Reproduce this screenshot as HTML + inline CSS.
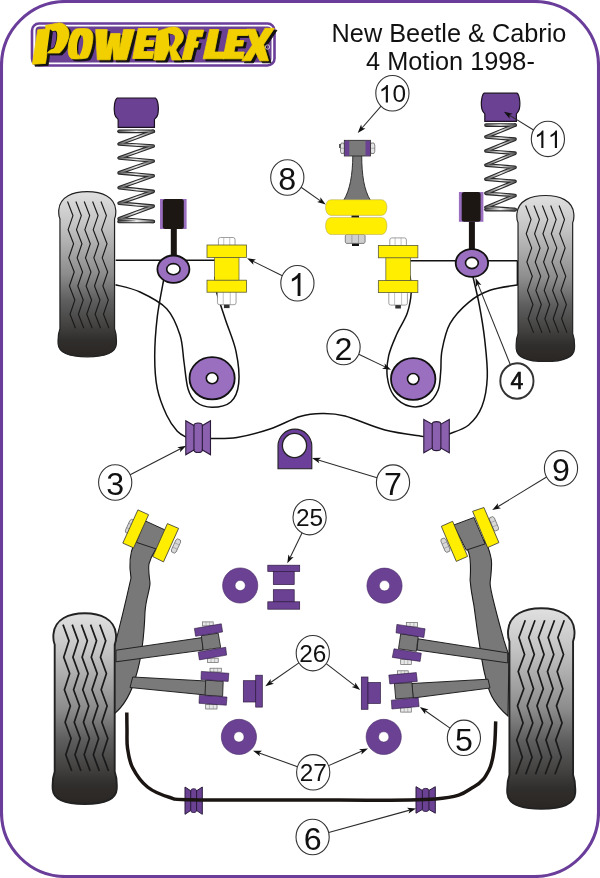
<!DOCTYPE html><html><head><meta charset="utf-8"><style>
html,body{margin:0;padding:0;background:#fff;width:600px;height:878px;overflow:hidden}
svg{display:block;font-family:"Liberation Sans",sans-serif;will-change:transform}
</style></head><body>
<svg width="600" height="878" viewBox="0 0 600 878">
<defs>
<linearGradient id="tg" x1="0" y1="0" x2="0" y2="1">
<stop offset="0" stop-color="#e0e0e0"/><stop offset="0.2" stop-color="#c4c4c4"/>
<stop offset="0.5" stop-color="#8c8c8c"/><stop offset="0.66" stop-color="#5e5e5e"/><stop offset="0.8" stop-color="#454443"/>
<stop offset="0.9" stop-color="#302e2c"/><stop offset="1" stop-color="#2a2624"/>
</linearGradient>
<linearGradient id="sg1" gradientUnits="userSpaceOnUse" x1="119" y1="0" x2="154" y2="0">
<stop offset="0" stop-color="#555"/><stop offset="0.5" stop-color="#f0f0f0"/><stop offset="1" stop-color="#555"/>
</linearGradient>
<linearGradient id="sg2" gradientUnits="userSpaceOnUse" x1="486" y1="0" x2="515" y2="0">
<stop offset="0" stop-color="#555"/><stop offset="0.5" stop-color="#f0f0f0"/><stop offset="1" stop-color="#555"/>
</linearGradient>
</defs>

<rect x="1.5" y="1.5" width="597" height="875" rx="64" ry="64" fill="#fff" stroke="#6a3d9a" stroke-width="3.1"/>
<rect x="32" y="23.5" width="242.5" height="42" rx="7" fill="#fff" stroke="#6a3d9a" stroke-width="2.6"/>
<rect x="35.5" y="26.5" width="236" height="36" rx="4" fill="#6a4193"/>
<g fill="#111" stroke="#111" stroke-width="0.8" stroke-linejoin="round"><path d="M 37.8,29.8 L 50.5,28.6 L 45.5,63.4 L 32.4,64.2 Z" transform="translate(2.6,2.0) "/><path d="M 45.6,25.5 L 58.8,22.9 C 63,22.5 69.5,27 69,34.7 C 68.5,41 64,49 59.5,53 L 47.8,53 Z" transform="translate(2.6,2.0) "/><path d="M 75.8,29.1 C 79,28.5 83,28.5 86.7,28.7 C 91,29 93.5,33 92.9,38.7 C 92,47 90,54 87.5,57.8 C 83,59 76,59.2 71.7,58.7 C 68.5,57 67.8,52 68.3,47 C 69,39 71.5,31 75.8,29.1 Z" transform="translate(2.6,2.0) "/><path d="M 95.7,29.6 L 107.2,29.6 L 106.3,50 L 110.8,33.6 L 120.2,33.6 L 119.5,50 L 123.6,29.6 L 134.6,29.6 L 126.5,59.8 L 113.8,59.8 L 112.6,45 L 110.2,59.8 L 97.3,59.8 Z" transform="translate(2.6,2.0) "/><path d="M 137,28.5 L 156.8,28.5 L 156,35 L 145.6,35 L 145,40.5 L 153.8,40.5 L 153.2,46.5 L 144.3,46.5 L 143.7,51.5 L 154.3,51.5 L 153.5,58.5 L 133.8,58.5 Z" transform="translate(2.6,2.0) matrix(1,0,-0.08,1,3.52,0)"/><path d="M 157.3,31.3 L 164,29.3 C 167,28 170,27 173.3,27 C 178,27 182,29.5 183.3,35 C 184,40 181,44 178.7,45.3 L 175.8,50 L 181.5,60 L 172,60 L 169.3,49 L 164.7,60 L 153.7,60 Z" transform="translate(2.6,2.0) "/><path d="M 184.5,30 L 199,30 L 198.3,36.8 L 192.6,36.8 L 192.1,41.5 L 195.3,41.5 L 194.7,47.2 L 191.4,47.2 L 189.8,59.5 L 180.8,59.5 Z" transform="translate(2.6,2.0) matrix(1,0,-0.12,1,8.3,0)"/><path d="M 207,29.5 L 216.2,29.5 L 213.6,52 L 224.2,52 L 223.4,58.8 L 202.8,58.8 Z" transform="translate(2.6,2.0) matrix(1,0,-0.08,1,5.0,0)"/><path d="M 227,29.5 L 247.2,29.5 L 246.5,35.5 L 235.8,35.5 L 235.2,40.5 L 242.8,40.5 L 242.2,46 L 234.6,46 L 233.9,52 L 244.2,52 L 243.5,58.8 L 223.5,58.8 Z" transform="translate(2.6,2.0) matrix(1,0,-0.08,1,4.2,0)"/><path d="M 246.7,29.2 L 255.2,29.2 L 258.8,38.8 L 265,28.3 L 274.4,28.3 L 263.6,44.5 L 268.5,60.8 L 259.8,60.8 L 255.6,52.3 L 250.8,60.8 L 241.8,60.8 L 252.4,45 Z" transform="translate(2.6,2.0) "/></g>
<g fill="#f2d000" stroke="#f2d000" stroke-width="0.8" stroke-linejoin="round"><path d="M 37.8,29.8 L 50.5,28.6 L 45.5,63.4 L 32.4,64.2 Z"/><path d="M 45.6,25.5 L 58.8,22.9 C 63,22.5 69.5,27 69,34.7 C 68.5,41 64,49 59.5,53 L 47.8,53 Z"/><path d="M 75.8,29.1 C 79,28.5 83,28.5 86.7,28.7 C 91,29 93.5,33 92.9,38.7 C 92,47 90,54 87.5,57.8 C 83,59 76,59.2 71.7,58.7 C 68.5,57 67.8,52 68.3,47 C 69,39 71.5,31 75.8,29.1 Z"/><path d="M 95.7,29.6 L 107.2,29.6 L 106.3,50 L 110.8,33.6 L 120.2,33.6 L 119.5,50 L 123.6,29.6 L 134.6,29.6 L 126.5,59.8 L 113.8,59.8 L 112.6,45 L 110.2,59.8 L 97.3,59.8 Z"/><path d="M 137,28.5 L 156.8,28.5 L 156,35 L 145.6,35 L 145,40.5 L 153.8,40.5 L 153.2,46.5 L 144.3,46.5 L 143.7,51.5 L 154.3,51.5 L 153.5,58.5 L 133.8,58.5 Z" transform=" matrix(1,0,-0.08,1,3.52,0)"/><path d="M 157.3,31.3 L 164,29.3 C 167,28 170,27 173.3,27 C 178,27 182,29.5 183.3,35 C 184,40 181,44 178.7,45.3 L 175.8,50 L 181.5,60 L 172,60 L 169.3,49 L 164.7,60 L 153.7,60 Z"/><path d="M 184.5,30 L 199,30 L 198.3,36.8 L 192.6,36.8 L 192.1,41.5 L 195.3,41.5 L 194.7,47.2 L 191.4,47.2 L 189.8,59.5 L 180.8,59.5 Z" transform=" matrix(1,0,-0.12,1,8.3,0)"/><path d="M 207,29.5 L 216.2,29.5 L 213.6,52 L 224.2,52 L 223.4,58.8 L 202.8,58.8 Z" transform=" matrix(1,0,-0.08,1,5.0,0)"/><path d="M 227,29.5 L 247.2,29.5 L 246.5,35.5 L 235.8,35.5 L 235.2,40.5 L 242.8,40.5 L 242.2,46 L 234.6,46 L 233.9,52 L 244.2,52 L 243.5,58.8 L 223.5,58.8 Z" transform=" matrix(1,0,-0.08,1,4.2,0)"/><path d="M 246.7,29.2 L 255.2,29.2 L 258.8,38.8 L 265,28.3 L 274.4,28.3 L 263.6,44.5 L 268.5,60.8 L 259.8,60.8 L 255.6,52.3 L 250.8,60.8 L 241.8,60.8 L 252.4,45 Z"/></g>
<g fill="#111"><path d="M 80.8,34.5 C 83,39 82,48 77.9,55.3 C 76,48 77,39 80.8,34.5 Z"/><path d="M 168.4,33.3 L 173.4,34.8 C 174.4,38 173,42 169.4,46.5 Z"/></g>
<g fill="#6a4193"><path d="M 80.8,34.5 C 83,39 82,48 77.9,55.3 C 76,48 77,39 80.8,34.5 Z" transform="translate(1.3,0.8) "/><path d="M 168.4,33.3 L 173.4,34.8 C 174.4,38 173,42 169.4,46.5 Z" transform="translate(1.3,0.8) "/></g>
<path d="M 50.0,29.2 L 52.6,31.3 C 54.5,30.6 56.2,30.5 56.8,32 C 58,35 56.6,44 54,48.2 L 50.2,49.8 L 46.8,52.8 Z" fill="#111"/>
<path d="M 52.8,31.9 C 54.4,31.3 55.6,31.2 56,32.4 C 57,35.5 55.8,44 53.4,47.6 L 50.6,48.8 Z" fill="#6a4193"/>
<circle cx="267.5" cy="47" r="2.2" fill="none" stroke="#ddd" stroke-width="0.8"/>
<text x="449" y="41.5" font-size="25.3" text-anchor="middle" fill="#111">New Beetle &amp; Cabrio</text>
<text x="450.5" y="69.5" font-size="25.3" text-anchor="middle" fill="#111">4 Motion 1998-</text>
<path d="M 59.94,218.78 C 58.80,216.31 58.52,213.01 58.80,209.72 C 59.94,196.54 73.03,191.60 87.25,191.60 C 101.47,191.60 114.56,196.54 115.70,209.72 C 115.98,213.01 115.70,216.31 114.56,218.78 L 114.56,328.80 C 116.27,333.24 116.72,338.18 116.38,343.95 C 115.70,353.83 104.32,356.79 87.25,356.79 C 70.18,356.79 58.80,353.83 58.12,343.95 C 57.78,338.18 58.23,333.24 59.94,328.80 Z" fill="url(#tg)" stroke="#222" stroke-width="1.2"/>
<polyline points="67.51,201.48 72.94,215.57 68.14,229.66 73.58,243.75 68.77,257.85 74.21,271.94 69.40,286.03 74.84,300.12 70.03,314.21 75.47,328.30" fill="none" stroke="#1a1a1a" stroke-width="1.15"/>
<polyline points="75.87,201.48 81.31,215.57 76.50,229.66 81.94,243.75 77.13,257.85 82.57,271.94 77.77,286.03 83.20,300.12 78.40,314.21 83.84,328.30" fill="none" stroke="#1a1a1a" stroke-width="1.15"/>
<polyline points="84.23,201.48 89.67,215.57 84.87,229.66 90.30,243.75 85.50,257.85 90.94,271.94 86.13,286.03 91.57,300.12 86.76,314.21 92.20,328.30" fill="none" stroke="#1a1a1a" stroke-width="1.15"/>
<polyline points="92.60,201.48 98.04,215.57 93.23,229.66 98.67,243.75 93.86,257.85 99.30,271.94 94.50,286.03 99.93,300.12 95.13,314.21 100.56,328.30" fill="none" stroke="#1a1a1a" stroke-width="1.15"/>
<polyline points="100.96,201.48 106.40,215.57 101.60,229.66 107.03,243.75 102.23,257.85 107.66,271.94 102.86,286.03 108.30,300.12 103.49,314.21 108.93,328.30" fill="none" stroke="#1a1a1a" stroke-width="1.15"/>
<path d="M 518.04,222.81 C 516.90,220.32 516.62,217.01 516.90,213.71 C 518.04,200.47 531.12,195.50 545.35,195.50 C 559.57,195.50 572.66,200.47 573.80,213.71 C 574.08,217.01 573.80,220.32 572.66,222.81 L 572.66,333.36 C 574.37,337.83 574.82,342.80 574.48,348.59 C 573.80,358.52 562.42,361.50 545.35,361.50 C 528.28,361.50 516.90,358.52 516.22,348.59 C 515.88,342.80 516.33,337.83 518.04,333.36 Z" fill="url(#tg)" stroke="#222" stroke-width="1.2"/>
<polyline points="525.61,205.43 531.04,219.59 526.24,233.75 531.68,247.91 526.87,262.07 532.31,276.23 527.50,290.39 532.94,304.55 528.13,318.71 533.57,332.87" fill="none" stroke="#1a1a1a" stroke-width="1.15"/>
<polyline points="533.97,205.43 539.41,219.59 534.60,233.75 540.04,247.91 535.23,262.07 540.67,276.23 535.87,290.39 541.30,304.55 536.50,318.71 541.94,332.87" fill="none" stroke="#1a1a1a" stroke-width="1.15"/>
<polyline points="542.33,205.43 547.77,219.59 542.97,233.75 548.40,247.91 543.60,262.07 549.04,276.23 544.23,290.39 549.67,304.55 544.86,318.71 550.30,332.87" fill="none" stroke="#1a1a1a" stroke-width="1.15"/>
<polyline points="550.70,205.43 556.14,219.59 551.33,233.75 556.77,247.91 551.96,262.07 557.40,276.23 552.60,290.39 558.03,304.55 553.23,318.71 558.66,332.87" fill="none" stroke="#1a1a1a" stroke-width="1.15"/>
<polyline points="559.06,205.43 564.50,219.59 559.70,233.75 565.13,247.91 560.33,262.07 565.76,276.23 560.96,290.39 566.40,304.55 561.59,318.71 567.03,332.87" fill="none" stroke="#1a1a1a" stroke-width="1.15"/>
<g fill="none" stroke="#111" stroke-width="1.5">
<line x1="115.7" y1="260.2" x2="215" y2="260.2"/>
<path d="M 115.50,284.70 C 119.58,285.92 131.47,288.00 140.00,292.00 C 148.53,296.00 160.03,301.53 166.70,308.70 C 173.37,315.87 177.12,326.12 180.00,335.00 C 182.88,343.88 182.67,353.05 184.00,362.00 C 185.33,370.95 186.00,382.03 188.00,388.70 C 190.00,395.37 192.00,398.90 196.00,402.00 C 200.00,405.10 206.22,407.30 212.00,407.30 C 217.78,407.30 226.25,406.00 230.70,402.00 C 235.15,398.00 237.82,391.75 238.70,383.30 C 239.58,374.85 238.23,361.97 236.00,351.30 C 233.77,340.63 228.63,329.52 225.30,319.30 C 221.97,309.08 217.77,297.10 216.00,290.00 C 214.23,282.90 214.92,278.92 214.70,276.70"/>
<path d="M 164.00,278.00 C 162.88,284.45 158.85,303.58 157.30,316.70 C 155.75,329.82 154.70,344.70 154.70,356.70 C 154.70,368.70 155.30,378.93 157.30,388.70 C 159.30,398.47 163.37,408.20 166.70,415.30 C 170.03,422.40 173.92,427.60 177.30,431.30 C 180.68,435.00 185.38,436.47 187.00,437.50"/>
<path d="M 210.50,438.50 C 214.92,438.33 227.08,439.08 237.00,437.50 C 246.92,435.92 259.50,432.50 270.00,429.00 C 280.50,425.50 291.33,419.08 300.00,416.50 C 308.67,413.92 314.50,413.58 322.00,413.50 C 329.50,413.42 334.50,413.25 345.00,416.00 C 355.50,418.75 371.87,426.58 385.00,430.00 C 398.13,433.42 417.33,435.42 423.80,436.50"/>
<line x1="410" y1="260.8" x2="517.3" y2="260.8"/>
<path d="M 517.30,285.00 C 512.75,285.88 498.10,287.42 490.00,290.30 C 481.90,293.18 475.37,296.73 468.70,302.30 C 462.03,307.87 454.45,315.70 450.00,323.70 C 445.55,331.70 443.55,342.30 442.00,350.30 C 440.45,358.30 441.37,365.03 440.70,371.70 C 440.03,378.37 440.23,384.97 438.00,390.30 C 435.77,395.63 431.97,401.03 427.30,403.70 C 422.63,406.37 415.55,407.63 410.00,406.30 C 404.45,404.97 397.78,400.58 394.00,395.70 C 390.22,390.82 388.18,383.67 387.30,377.00 C 386.42,370.33 387.13,362.82 388.70,355.70 C 390.27,348.58 393.60,341.42 396.70,334.30 C 399.80,327.18 404.87,320.10 407.30,313.00 C 409.73,305.90 410.85,297.92 411.30,291.70 C 411.75,285.48 410.22,278.37 410.00,275.70"/>
<path d="M 472.30,274.00 C 473.47,279.17 477.23,294.05 479.30,305.00 C 481.37,315.95 483.37,327.70 484.70,339.70 C 486.03,351.70 487.75,365.90 487.30,377.00 C 486.85,388.10 485.10,398.30 482.00,406.30 C 478.90,414.30 474.20,420.38 468.70,425.00 C 463.20,429.62 452.28,432.50 449.00,434.00"/>
</g>
<line x1="517.3" y1="260.5" x2="517.3" y2="285.5" stroke="#111" stroke-width="1.3"/>
<g fill="none" stroke-linecap="round" stroke-linejoin="round">
<line x1="119.1" y1="131.3" x2="153.2" y2="131.3" stroke="#2a2a2a" stroke-width="3.7"/>
<line x1="119.1" y1="221.5" x2="153.2" y2="221.5" stroke="#2a2a2a" stroke-width="3.7"/>
<polyline points="153.2,131.3 119.1,144.0 153.2,146.1 119.1,158.0 153.2,161.0 119.1,172.8 153.2,175.8 119.1,187.7 153.2,191.4 119.1,203.2 153.2,206.2 119.1,218.8 153.2,221.5" stroke="#2a2a2a" stroke-width="3.7"/>
<line x1="119.1" y1="131.3" x2="153.2" y2="131.3" stroke="url(#sg1)" stroke-width="1.5"/>
<line x1="119.1" y1="221.5" x2="153.2" y2="221.5" stroke="url(#sg1)" stroke-width="1.5"/>
<polyline points="153.2,131.3 119.1,144.0 153.2,146.1 119.1,158.0 153.2,161.0 119.1,172.8 153.2,175.8 119.1,187.7 153.2,191.4 119.1,203.2 153.2,206.2 119.1,218.8 153.2,221.5" stroke="url(#sg1)" stroke-width="1.5"/>
</g>
<path d="M 117.29,98.00 L 155.31,98.00 C 157.90,99.47 159.20,108.29 157.90,114.17 C 157.04,117.99 154.44,118.58 154.44,119.76 L 154.44,127.40 L 118.16,127.40 L 118.16,119.76 C 118.16,118.58 115.56,117.99 114.70,114.17 C 113.40,108.29 114.70,99.47 117.29,98.00 Z" fill="#6a4193" stroke="#1a1020" stroke-width="1.2"/>
<g fill="none" stroke-linecap="round" stroke-linejoin="round">
<line x1="486" y1="125.1" x2="515" y2="125.1" stroke="#2a2a2a" stroke-width="3.7"/>
<line x1="486" y1="209.6" x2="515" y2="209.6" stroke="#2a2a2a" stroke-width="3.7"/>
<polyline points="515.0,125.1 486.0,136.9 515.0,139.2 486.0,151.0 515.0,153.2 486.0,165.1 515.0,167.3 486.0,179.2 515.0,181.4 486.0,193.3 515.0,195.5 486.0,207.4 515.0,209.6" stroke="#2a2a2a" stroke-width="3.7"/>
<line x1="486" y1="125.1" x2="515" y2="125.1" stroke="url(#sg2)" stroke-width="1.5"/>
<line x1="486" y1="209.6" x2="515" y2="209.6" stroke="url(#sg2)" stroke-width="1.5"/>
<polyline points="515.0,125.1 486.0,136.9 515.0,139.2 486.0,151.0 515.0,153.2 486.0,165.1 515.0,167.3 486.0,179.2 515.0,181.4 486.0,193.3 515.0,195.5 486.0,207.4 515.0,209.6" stroke="url(#sg2)" stroke-width="1.5"/>
</g>
<path d="M 484.06,93.20 L 517.14,93.20 C 519.40,94.61 520.53,103.07 519.40,108.71 C 518.65,112.38 516.39,112.94 516.39,114.07 L 516.39,121.40 L 484.81,121.40 L 484.81,114.07 C 484.81,112.94 482.55,112.38 481.80,108.71 C 480.67,103.07 481.80,94.61 484.06,93.20 Z" fill="#6a4193" stroke="#1a1020" stroke-width="1.2"/>
<rect x="170.8" y="227" width="6" height="31" fill="#1a1512" />
<rect x="160" y="199" width="26.599999999999994" height="30" fill="#9a6fc0"/>
<rect x="162.8" y="199" width="20.999999999999993" height="30" rx="2.5" fill="#1d1714"/>
<rect x="468.9" y="219.8" width="6" height="30.19999999999999" fill="#1a1512" />
<rect x="458.9" y="192" width="24.5" height="29.80000000000001" fill="#9a6fc0"/>
<rect x="461.7" y="192" width="18.9" height="29.80000000000001" rx="2.5" fill="#1d1714"/>
<ellipse cx="173.4" cy="269.2" rx="16.0" ry="13.7" fill="#9a6fc0" stroke="#111" stroke-width="1.8"/>
<ellipse cx="173.4" cy="269.2" rx="6.7" ry="5.6" fill="#fff" stroke="#111" stroke-width="1.6"/>
<ellipse cx="471.9" cy="263" rx="16.2" ry="13.9" fill="#9a6fc0" stroke="#111" stroke-width="1.8"/>
<ellipse cx="471.9" cy="263" rx="6.4" ry="5.6" fill="#fff" stroke="#111" stroke-width="1.6"/>
<rect x="218.45" y="237.5" width="16.6" height="9" rx="2" fill="#fff" stroke="#777" stroke-width="0.7"/>
<line x1="223.75" y1="237.5" x2="223.75" y2="245" stroke="#999" stroke-width="0.6"/>
<line x1="229.75" y1="237.5" x2="229.75" y2="245" stroke="#999" stroke-width="0.6"/>
<rect x="217.45" y="291" width="18.6" height="13.7" rx="2" fill="#fff" stroke="#777" stroke-width="0.7"/>
<line x1="223.25" y1="292" x2="223.25" y2="304.7" stroke="#999" stroke-width="0.6"/>
<line x1="230.25" y1="292" x2="230.25" y2="304.7" stroke="#999" stroke-width="0.6"/>
<rect x="223.95" y="304.7" width="5.6" height="3.4" fill="#333"/>
<rect x="214.5" y="257" width="24.5" height="23.5" fill="#ffee00" stroke="#5a5a3a" stroke-width="0.7"/>
<rect x="207.0" y="245" width="39.5" height="12.4" fill="#ffee00" stroke="#5a5a3a" stroke-width="0.8"/>
<rect x="207.0" y="280.2" width="39.5" height="12" fill="#ffee00" stroke="#5a5a3a" stroke-width="0.8"/>
<rect x="389.8" y="237.9" width="16.6" height="9" rx="2" fill="#fff" stroke="#777" stroke-width="0.7"/>
<line x1="395.1" y1="237.9" x2="395.1" y2="245.4" stroke="#999" stroke-width="0.6"/>
<line x1="401.1" y1="237.9" x2="401.1" y2="245.4" stroke="#999" stroke-width="0.6"/>
<rect x="388.8" y="291.4" width="18.6" height="13.7" rx="2" fill="#fff" stroke="#777" stroke-width="0.7"/>
<line x1="394.6" y1="292.4" x2="394.6" y2="305.1" stroke="#999" stroke-width="0.6"/>
<line x1="401.6" y1="292.4" x2="401.6" y2="305.1" stroke="#999" stroke-width="0.6"/>
<rect x="395.3" y="305.1" width="5.6" height="3.4" fill="#333"/>
<rect x="385.85" y="257.4" width="24.5" height="23.5" fill="#ffee00" stroke="#5a5a3a" stroke-width="0.7"/>
<rect x="378.35" y="245.4" width="39.5" height="12.4" fill="#ffee00" stroke="#5a5a3a" stroke-width="0.8"/>
<rect x="378.35" y="280.6" width="39.5" height="12" fill="#ffee00" stroke="#5a5a3a" stroke-width="0.8"/>
<ellipse cx="212.1" cy="378.3" rx="22.6" ry="21.1" fill="#9a6fc0" stroke="#111" stroke-width="1.8"/>
<ellipse cx="212.1" cy="378.3" rx="5.8" ry="5.5" fill="#fff" stroke="#111" stroke-width="1.6"/>
<ellipse cx="413.2" cy="379.0" rx="22.2" ry="20.9" fill="#9a6fc0" stroke="#111" stroke-width="1.8"/>
<ellipse cx="413.2" cy="379.0" rx="5.7" ry="5.5" fill="#fff" stroke="#111" stroke-width="1.6"/>
<path d="M 185.8,420.8 L 193.95,425.55 C 193.95,422.16 202.35,422.16 202.35,425.55 L 210.5,420.8 L 210.5,454.7 L 202.35,449.95 C 202.35,453.34 193.95,453.34 193.95,449.95 L 185.8,454.7 Z" fill="#8b60ae" stroke="#2a1a3a" stroke-width="1.1" stroke-linejoin="miter"/>
<line x1="193.95" y1="425.55" x2="193.95" y2="449.95" stroke="#2a1a3a" stroke-width="1.1"/>
<line x1="202.35" y1="425.55" x2="202.35" y2="449.95" stroke="#2a1a3a" stroke-width="1.1"/>
<path d="M 423.8,419.5 L 432.22,424.16 C 432.22,420.83 440.88,420.83 440.88,424.16 L 449.3,419.5 L 449.3,452.8 L 440.88,448.14 C 440.88,451.47 432.22,451.47 432.22,448.14 L 423.8,452.8 Z" fill="#8b60ae" stroke="#2a1a3a" stroke-width="1.1" stroke-linejoin="miter"/>
<line x1="432.22" y1="424.16" x2="432.22" y2="448.14" stroke="#2a1a3a" stroke-width="1.1"/>
<line x1="440.88" y1="424.16" x2="440.88" y2="448.14" stroke="#2a1a3a" stroke-width="1.1"/>
<path d="M 278,446 A 16.9,16.9 0 0 1 311.8,446 L 311.8,468.7 L 278,468.7 Z" fill="#6c409a" stroke="#222" stroke-width="1.1"/>
<circle cx="294.5" cy="445.5" r="12.1" fill="#fff" stroke="#222" stroke-width="1.3"/>
<rect x="339.3" y="144" width="2.5" height="4" fill="#111"/>
<path d="M 341.3,143 L 343.7,143 L 344.5,145.1 L 344.5,151.4 L 343.7,153.5 L 341.3,153.5 L 340.5,151.4 L 340.5,145.1 Z" fill="#e4e4e4" stroke="#555" stroke-width="0.7"/>
<line x1="340.5" y1="148.25" x2="344.5" y2="148.25" stroke="#777" stroke-width="0.5"/>
<path d="M 371.2,143 L 373.90000000000003,143 L 374.8,145.1 L 374.8,151.4 L 373.90000000000003,153.5 L 371.2,153.5 L 370.3,151.4 L 370.3,145.1 Z" fill="#e4e4e4" stroke="#555" stroke-width="0.7"/>
<line x1="370.3" y1="148.25" x2="374.8" y2="148.25" stroke="#777" stroke-width="0.5"/>
<path d="M 352.8,155.5 L 361.7,155.5 C 361.8,175 364,190 370.5,200.5 L 343.6,200.5 C 350,190 352.6,175 352.8,155.5 Z" fill="#777" stroke="#222" stroke-width="0.9"/>
<rect x="344.3" y="140.3" width="26.2" height="15.7" fill="#7a7a7a" stroke="#222" stroke-width="0.8"/>
<rect x="344.7" y="140.7" width="4.6" height="15" fill="#6a4193"/>
<rect x="365.5" y="140.7" width="4.6" height="15" fill="#6a4193"/>
<rect x="352" y="243" width="7" height="3" fill="#111"/>
<path d="M 345.3,235.835 L 346.29,234.5 L 364.11,234.5 L 365.1,235.835 L 365.1,242.065 L 364.11,243.4 L 346.29,243.4 L 345.3,242.065 Z" fill="#cfcfcf" stroke="#555" stroke-width="0.7"/>
<line x1="351.90" y1="234.5" x2="351.90" y2="243.4" stroke="#777" stroke-width="0.5"/>
<line x1="358.50" y1="234.5" x2="358.50" y2="243.4" stroke="#777" stroke-width="0.5"/>
<rect x="351.5" y="215" width="7.5" height="3" fill="#111"/>
<path d="M 331,199.7 L 381.5,199.7 C 389,199.7 388.5,215.4 381.5,215.4 L 331,215.4 C 324,215.4 323.5,199.7 331,199.7 Z" fill="#ffee00" stroke="#aaa060" stroke-width="0.5"/>
<path d="M 331,217.4 L 381.5,217.4 C 389,217.4 388.5,234.5 381.5,234.5 L 331,234.5 C 324,234.5 323.5,217.4 331,217.4 Z" fill="#ffee00" stroke="#aaa060" stroke-width="0.5"/>
<path d="M 136.5,539 L 134,544 C 130,553 129,566 131,578 C 127,596 121,622 114,648 L 114,714 C 124,706 131,694 136,676 C 141,660 144,640 145,612 C 146,598 150,590 150,583 C 149,574 148,568 149,563.8 C 151,556 155,551 156,549 L 158.5,545 Z" fill="#787878" stroke="#1a1a1a" stroke-width="1.1"/>
<path d="M 465,546 L 467.6,550 C 471,556 471,566 470.1,580.2 C 471,592 473,600 473.9,605.3 C 476,620 477,630 478.9,640.4 C 481,655 483,668 485.1,675.4 C 488,690 492,702 508,716 L 509,655 C 506,648 505,643 503.9,640.4 C 500,626 497,615 495.2,607.8 C 492,595 490,588 490.1,582.7 C 491,575 492,565 491.4,560.2 C 490,552 488,547 486.4,544 L 484,540 Z" fill="#787878" stroke="#1a1a1a" stroke-width="1.1"/>
<path d="M 54.70,644.58 C 53.45,641.73 53.14,637.93 53.45,634.12 C 54.70,618.91 69.08,613.20 84.70,613.20 C 100.33,613.20 114.70,618.91 115.95,634.12 C 116.26,637.93 115.95,641.73 114.70,644.58 L 114.70,771.64 C 116.58,776.77 117.08,782.48 116.70,789.13 C 115.95,800.55 103.45,803.97 84.70,803.97 C 65.95,803.97 53.45,800.55 52.70,789.13 C 52.33,782.48 52.83,776.77 54.70,771.64 Z" fill="url(#tg)" stroke="#222" stroke-width="1.9"/>
<polyline points="63.01,624.61 68.98,640.88 63.71,657.16 69.68,673.43 64.40,689.70 70.37,705.98 65.10,722.25 71.07,738.52 65.79,754.79 71.76,771.07" fill="none" stroke="#1a1a1a" stroke-width="1.7"/>
<polyline points="72.20,624.61 78.17,640.88 72.89,657.16 78.87,673.43 73.59,689.70 79.56,705.98 74.28,722.25 80.26,738.52 74.98,754.79 80.95,771.07" fill="none" stroke="#1a1a1a" stroke-width="1.7"/>
<polyline points="81.39,624.61 87.36,640.88 82.08,657.16 88.05,673.43 82.78,689.70 88.75,705.98 83.47,722.25 89.44,738.52 84.17,754.79 90.14,771.07" fill="none" stroke="#1a1a1a" stroke-width="1.7"/>
<polyline points="90.58,624.61 96.55,640.88 91.27,657.16 97.24,673.43 91.96,689.70 97.94,705.98 92.66,722.25 98.63,738.52 93.35,754.79 99.33,771.07" fill="none" stroke="#1a1a1a" stroke-width="1.7"/>
<polyline points="99.76,624.61 105.73,640.88 100.46,657.16 106.43,673.43 101.15,689.70 107.12,705.98 101.85,722.25 107.82,738.52 102.54,754.79 108.51,771.07" fill="none" stroke="#1a1a1a" stroke-width="1.7"/>
<path d="M 509.43,641.30 C 508.10,638.30 507.77,634.30 508.10,630.30 C 509.43,614.30 524.67,608.30 541.25,608.30 C 557.83,608.30 573.07,614.30 574.40,630.30 C 574.73,634.30 574.40,638.30 573.07,641.30 L 573.07,774.90 C 575.06,780.30 575.59,786.30 575.20,793.30 C 574.40,805.30 561.14,808.90 541.25,808.90 C 521.36,808.90 508.10,805.30 507.30,793.30 C 506.91,786.30 507.44,780.30 509.43,774.90 Z" fill="url(#tg)" stroke="#222" stroke-width="1.9"/>
<polyline points="564.26,620.30 557.92,637.41 563.52,654.52 557.18,671.63 562.78,688.74 556.45,705.86 562.05,722.97 555.71,740.08 561.31,757.19 554.97,774.30" fill="none" stroke="#1a1a1a" stroke-width="1.7"/>
<polyline points="554.51,620.30 548.17,637.41 553.77,654.52 547.44,671.63 553.04,688.74 546.70,705.86 552.30,722.97 545.96,740.08 551.56,757.19 545.23,774.30" fill="none" stroke="#1a1a1a" stroke-width="1.7"/>
<polyline points="544.76,620.30 538.43,637.41 544.03,654.52 537.69,671.63 543.29,688.74 536.96,705.86 542.55,722.97 536.22,740.08 541.82,757.19 535.48,774.30" fill="none" stroke="#1a1a1a" stroke-width="1.7"/>
<polyline points="535.02,620.30 528.68,637.41 534.28,654.52 527.95,671.63 533.54,688.74 527.21,705.86 532.81,722.97 526.47,740.08 532.07,757.19 525.74,774.30" fill="none" stroke="#1a1a1a" stroke-width="1.7"/>
<polyline points="525.27,620.30 518.94,637.41 524.54,654.52 518.20,671.63 523.80,688.74 517.46,705.86 523.06,722.97 516.73,740.08 522.33,757.19 515.99,774.30" fill="none" stroke="#1a1a1a" stroke-width="1.7"/>
<polygon points="116.0,650.2 202.0,637.6 203.0,650.1 116.0,661.8" fill="#7a7a7a" stroke="#222" stroke-width="1" stroke-linejoin="round"/>
<polygon points="132.7,677.0 206.0,681.0 206.0,695.0 130.0,687.5" fill="#7a7a7a" stroke="#222" stroke-width="1" stroke-linejoin="round"/>
<rect x="202.5" y="621.9" width="10.699999999999989" height="4.0" fill="#e8e8e8" stroke="#666" stroke-width="0.7"/>
<line x1="206.06666666666666" y1="621.9" x2="206.06666666666666" y2="625.9" stroke="#888" stroke-width="0.5"/>
<line x1="209.63333333333333" y1="621.9" x2="209.63333333333333" y2="625.9" stroke="#888" stroke-width="0.5"/>
<rect x="207.5" y="658.2" width="10.699999999999989" height="4.399999999999977" fill="#e8e8e8" stroke="#666" stroke-width="0.7"/>
<line x1="211.06666666666666" y1="658.2" x2="211.06666666666666" y2="662.6" stroke="#888" stroke-width="0.5"/>
<line x1="214.63333333333333" y1="658.2" x2="214.63333333333333" y2="662.6" stroke="#888" stroke-width="0.5"/>
<polygon points="201.3,635.7 218.2,633.2 220.7,647.6 203.2,650.1" fill="#7a7a7a" stroke="#222" stroke-width="0.9" stroke-linejoin="round"/>
<polygon points="194.4,628.5 221.3,623.8 222.6,631.9 195.6,636.3" fill="#6a4193" stroke="#2a1a3a" stroke-width="0.6" stroke-linejoin="round"/>
<polygon points="198.2,652.0 225.7,647.3 226.6,655.1 199.4,659.9" fill="#6a4193" stroke="#2a1a3a" stroke-width="0.6" stroke-linejoin="round"/>
<rect x="210" y="668.2" width="11.300000000000011" height="3.7999999999999545" fill="#e8e8e8" stroke="#666" stroke-width="0.7"/>
<line x1="213.76666666666668" y1="668.2" x2="213.76666666666668" y2="672" stroke="#888" stroke-width="0.5"/>
<line x1="217.53333333333333" y1="668.2" x2="217.53333333333333" y2="672" stroke="#888" stroke-width="0.5"/>
<rect x="205.7" y="704.6" width="11.300000000000011" height="4.399999999999977" fill="#e8e8e8" stroke="#666" stroke-width="0.7"/>
<line x1="209.46666666666667" y1="704.6" x2="209.46666666666667" y2="709" stroke="#888" stroke-width="0.5"/>
<line x1="213.23333333333332" y1="704.6" x2="213.23333333333332" y2="709" stroke="#888" stroke-width="0.5"/>
<polygon points="205.7,680.1 223.2,681.4 222.6,696.4 205.0,695.2" fill="#7a7a7a" stroke="#222" stroke-width="0.9" stroke-linejoin="round"/>
<polygon points="201.3,671.4 228.8,673.3 228.2,681.4 201.0,679.5" fill="#6a4193" stroke="#2a1a3a" stroke-width="0.6" stroke-linejoin="round"/>
<polygon points="199.4,695.2 227.0,697.1 226.3,705.2 199.0,703.3" fill="#6a4193" stroke="#2a1a3a" stroke-width="0.6" stroke-linejoin="round"/>
<polygon points="418.0,638.8 507.7,652.9 507.7,662.9 417.0,650.0" fill="#7a7a7a" stroke="#222" stroke-width="1" stroke-linejoin="round"/>
<polygon points="412.0,683.5 488.0,679.2 490.0,688.0 413.0,698.0" fill="#7a7a7a" stroke="#222" stroke-width="1" stroke-linejoin="round"/>
<rect x="406.3" y="622.5" width="11.300000000000011" height="4.399999999999977" fill="#e8e8e8" stroke="#666" stroke-width="0.7"/>
<line x1="410.06666666666666" y1="622.5" x2="410.06666666666666" y2="626.9" stroke="#888" stroke-width="0.5"/>
<line x1="413.83333333333337" y1="622.5" x2="413.83333333333337" y2="626.9" stroke="#888" stroke-width="0.5"/>
<rect x="400.7" y="659.5" width="10.600000000000023" height="5.0" fill="#e8e8e8" stroke="#666" stroke-width="0.7"/>
<line x1="404.23333333333335" y1="659.5" x2="404.23333333333335" y2="664.5" stroke="#888" stroke-width="0.5"/>
<line x1="407.76666666666665" y1="659.5" x2="407.76666666666665" y2="664.5" stroke="#888" stroke-width="0.5"/>
<polygon points="400.7,633.8 418.2,636.3 416.3,651.3 398.5,648.8" fill="#7a7a7a" stroke="#222" stroke-width="0.9" stroke-linejoin="round"/>
<polygon points="396.9,624.4 425.1,628.8 423.8,637.6 396.0,632.8" fill="#6a4193" stroke="#2a1a3a" stroke-width="0.6" stroke-linejoin="round"/>
<polygon points="394.0,648.8 421.3,653.2 420.1,661.4 392.3,657.4" fill="#6a4193" stroke="#2a1a3a" stroke-width="0.6" stroke-linejoin="round"/>
<rect x="397.5" y="670.8" width="10.699999999999989" height="3.7000000000000455" fill="#e8e8e8" stroke="#666" stroke-width="0.7"/>
<line x1="401.06666666666666" y1="670.8" x2="401.06666666666666" y2="674.5" stroke="#888" stroke-width="0.5"/>
<line x1="404.6333333333333" y1="670.8" x2="404.6333333333333" y2="674.5" stroke="#888" stroke-width="0.5"/>
<rect x="400.7" y="707.7" width="10.600000000000023" height="4.399999999999977" fill="#e8e8e8" stroke="#666" stroke-width="0.7"/>
<line x1="404.23333333333335" y1="707.7" x2="404.23333333333335" y2="712.1" stroke="#888" stroke-width="0.5"/>
<line x1="407.76666666666665" y1="707.7" x2="407.76666666666665" y2="712.1" stroke="#888" stroke-width="0.5"/>
<polygon points="394.4,683.3 411.9,682.7 413.2,697.7 395.7,698.9" fill="#7a7a7a" stroke="#222" stroke-width="0.9" stroke-linejoin="round"/>
<polygon points="388.8,675.1 416.3,672.6 417.3,681.4 389.8,683.9" fill="#6a4193" stroke="#2a1a3a" stroke-width="0.6" stroke-linejoin="round"/>
<polygon points="391.3,700.2 418.2,697.7 419.1,706.5 391.9,709.0" fill="#6a4193" stroke="#2a1a3a" stroke-width="0.6" stroke-linejoin="round"/>
<polygon points="131.6,519.3 129.9,520.5 125.4,530.3 125.6,532.4 128.4,533.7 130.1,532.5 134.6,522.7 134.4,520.6" fill="#d8d8d8" stroke="#555" stroke-width="0.7" stroke-linejoin="round"/>
<line x1="128.62" y1="523.26" x2="133.35" y2="525.41" stroke="#777" stroke-width="0.5"/>
<line x1="126.65" y1="527.59" x2="131.38" y2="529.74" stroke="#777" stroke-width="0.5"/>
<polygon points="177.6,538.8 175.9,540.0 171.4,549.8 171.6,551.9 174.4,553.2 176.1,552.0 180.6,542.2 180.4,540.1" fill="#d8d8d8" stroke="#555" stroke-width="0.7" stroke-linejoin="round"/>
<line x1="174.62" y1="542.76" x2="179.35" y2="544.91" stroke="#777" stroke-width="0.5"/>
<line x1="172.65" y1="547.09" x2="177.38" y2="549.24" stroke="#777" stroke-width="0.5"/>
<polygon points="144.8,520.7 165.8,530.3 157.9,549.5 136.3,542.3" fill="#7a7a7a" stroke="#222" stroke-width="1" stroke-linejoin="round"/>
<polygon points="137.9,509.9 148.6,514.7 133.6,547.9 122.8,543.1" fill="#ffee00" stroke="#333" stroke-width="0.8" stroke-linejoin="round"/>
<polygon points="167.4,523.6 178.6,528.4 163.5,561.9 152.8,556.6" fill="#ffee00" stroke="#333" stroke-width="0.8" stroke-linejoin="round"/>
<polygon points="441.1,539.2 440.9,541.3 445.1,551.2 446.8,552.4 449.7,551.2 449.9,549.1 445.7,539.2 444.0,538.0" fill="#d8d8d8" stroke="#555" stroke-width="0.7" stroke-linejoin="round"/>
<line x1="442.08" y1="544.04" x2="446.86" y2="541.99" stroke="#777" stroke-width="0.5"/>
<line x1="443.94" y1="548.41" x2="448.72" y2="546.36" stroke="#777" stroke-width="0.5"/>
<polygon points="489.7,517.8 489.5,519.9 493.7,529.8 495.4,531.0 498.3,529.8 498.5,527.7 494.3,517.8 492.6,516.6" fill="#d8d8d8" stroke="#555" stroke-width="0.7" stroke-linejoin="round"/>
<line x1="490.68" y1="522.64" x2="495.46" y2="520.59" stroke="#777" stroke-width="0.5"/>
<line x1="492.54" y1="527.01" x2="497.32" y2="524.96" stroke="#777" stroke-width="0.5"/>
<polygon points="453.8,525.0 473.9,517.5 485.1,543.9 466.3,550.1" fill="#7a7a7a" stroke="#222" stroke-width="1" stroke-linejoin="round"/>
<polygon points="441.3,526.3 452.6,521.3 467.6,556.4 456.3,561.4" fill="#ffee00" stroke="#333" stroke-width="0.8" stroke-linejoin="round"/>
<polygon points="472.6,511.3 483.9,507.5 498.9,542.6 487.6,547.6" fill="#ffee00" stroke="#333" stroke-width="0.8" stroke-linejoin="round"/>
<circle cx="240.2" cy="585.5" r="17.6" fill="#6a4193" stroke="#4a2a66" stroke-width="0.6"/>
<circle cx="240.2" cy="585.5" r="5.1" fill="#fff" stroke="#4a2a66" stroke-width="0.4"/>
<circle cx="384.5" cy="585.7" r="17.6" fill="#6a4193" stroke="#4a2a66" stroke-width="0.6"/>
<circle cx="384.5" cy="585.7" r="5.1" fill="#fff" stroke="#4a2a66" stroke-width="0.4"/>
<circle cx="238.9" cy="736.9" r="17.6" fill="#6a4193" stroke="#4a2a66" stroke-width="0.6"/>
<circle cx="238.9" cy="736.9" r="5.1" fill="#fff" stroke="#4a2a66" stroke-width="0.4"/>
<circle cx="383.7" cy="736.9" r="17.6" fill="#6a4193" stroke="#4a2a66" stroke-width="0.6"/>
<circle cx="383.7" cy="736.9" r="5.1" fill="#fff" stroke="#4a2a66" stroke-width="0.4"/>
<rect x="267.8" y="565.2" width="31.9" height="6.2" fill="#6a4193" stroke="#2e1c40" stroke-width="0.7"/>
<rect x="273.3" y="571.4" width="20.9" height="13.2" fill="#6a4193" stroke="#2e1c40" stroke-width="0.7"/>
<rect x="273.3" y="589.7" width="20.9" height="12.1" fill="#6a4193" stroke="#2e1c40" stroke-width="0.7"/>
<rect x="267.8" y="601.8" width="31.9" height="7.4" fill="#6a4193" stroke="#2e1c40" stroke-width="0.7"/>
<rect x="243.3" y="680.7" width="12.4" height="21.3" fill="#6a4193" stroke="#2e1c40" stroke-width="0.7"/>
<rect x="255.7" y="675.2" width="6.6" height="31.9" fill="#6a4193" stroke="#2e1c40" stroke-width="0.7"/>
<rect x="361.3" y="677" width="6.7" height="32.3" fill="#6a4193" stroke="#2e1c40" stroke-width="0.7"/>
<rect x="368" y="682.5" width="12.4" height="20.9" fill="#6a4193" stroke="#2e1c40" stroke-width="0.7"/>
<path d="M 185,787 L 190.71,790.82 C 190.71,788.09 196.59,788.09 196.59,790.82 L 202.3,787 L 202.3,814.3 L 196.59,810.48 C 196.59,813.21 190.71,813.21 190.71,810.48 L 185,814.3 Z" fill="#6a4193" stroke="#2a1a3a" stroke-width="1.0" stroke-linejoin="miter"/>
<line x1="190.71" y1="790.82" x2="190.71" y2="810.48" stroke="#2a1a3a" stroke-width="1.0"/>
<line x1="196.59" y1="790.82" x2="196.59" y2="810.48" stroke="#2a1a3a" stroke-width="1.0"/>
<path d="M 416,786.7 L 422.37,790.41 C 422.37,787.76 428.93,787.76 428.93,790.41 L 435.3,786.7 L 435.3,813.2 L 428.93,809.49 C 428.93,812.14 422.37,812.14 422.37,809.49 L 416,813.2 Z" fill="#6a4193" stroke="#2a1a3a" stroke-width="1.0" stroke-linejoin="miter"/>
<line x1="422.37" y1="790.41" x2="422.37" y2="809.49" stroke="#2a1a3a" stroke-width="1.0"/>
<line x1="428.93" y1="790.41" x2="428.93" y2="809.49" stroke="#2a1a3a" stroke-width="1.0"/>
<path d="M 126.80,712.50 C 126.83,715.42 126.88,724.08 127.00,730.00 C 127.12,735.92 126.58,741.75 127.50,748.00 C 128.42,754.25 129.17,761.00 132.50,767.50 C 135.83,774.00 141.25,782.00 147.50,787.00 C 153.75,792.00 162.92,795.37 170.00,797.50 C 177.08,799.63 168.33,799.38 190.00,799.80 C 211.67,800.22 259.12,800.15 300.00,800.00 C 340.88,799.85 406.30,801.12 435.30,798.90 C 464.30,796.68 465.05,791.52 474.00,786.70 C 482.95,781.88 485.62,776.45 489.00,770.00 C 492.38,763.55 493.18,756.10 494.30,748.00 C 495.42,739.90 495.47,725.83 495.70,721.40" fill="none" stroke="#1a1512" stroke-width="3.5"/>
<line x1="282.35" y1="275.78" x2="252.92" y2="261.19" stroke="#2a2a2a" stroke-width="1.05"/>
<polygon points="247.1,258.3 256.00,259.48 252.92,261.19 253.43,264.68" fill="#111"/>
<ellipse cx="297.4" cy="283.25" rx="16.6" ry="17.700000000000003" fill="#fff" stroke="#333" stroke-width="1.1"/>
<path d="M 300.46,296.01 L 297.63,296.01 L 297.63,277.97 C 296.95,278.62 296.05,279.26 294.92,279.94 C 293.79,280.61 292.80,281.10 291.89,281.45 L 291.89,278.71 C 293.47,277.97 294.86,277.07 296.05,276.01 C 297.24,274.95 298.08,273.92 298.59,272.95 L 300.46,272.95 Z" fill="#111"/>
<line x1="358.71" y1="354.32" x2="385.13" y2="366.90" stroke="#2a2a2a" stroke-width="1.05"/>
<polygon points="391,369.7 382.08,368.66 385.13,366.90 384.57,363.43" fill="#111"/>
<ellipse cx="343.55" cy="347.1" rx="16.6" ry="17.700000000000003" fill="#fff" stroke="#333" stroke-width="1.1"/>
<text x="334.60" y="359.86" font-size="32.2" fill="#111">2</text>
<line x1="130.14" y1="474.78" x2="180.43" y2="448.78" stroke="#2a2a2a" stroke-width="1.05"/>
<polygon points="186.2,445.8 179.98,452.28 180.43,448.78 177.32,447.13" fill="#111"/>
<ellipse cx="115.2" cy="482.5" rx="16.6" ry="17.700000000000003" fill="#fff" stroke="#333" stroke-width="1.1"/>
<text x="106.25" y="495.26" font-size="32.2" fill="#111">3</text>
<line x1="510.36" y1="364.73" x2="477.93" y2="284.13" stroke="#2a2a2a" stroke-width="1.05"/>
<polygon points="475.5,278.1 481.36,284.90 477.93,284.13 475.98,287.07" fill="#111"/>
<ellipse cx="516.9" cy="381" rx="16.6" ry="17.700000000000003" fill="#fff" stroke="#333" stroke-width="1.9"/>
<text x="510.51" y="389.23" font-size="23" fill="#111">4</text>
<text x="510.5" y="389" font-size="23" fill="none" stroke="#111" stroke-width="0.7">4</text>
<line x1="377.03" y1="477.75" x2="318.22" y2="459.89" stroke="#2a2a2a" stroke-width="1.05"/>
<polygon points="312,458 320.98,457.70 318.22,459.89 319.29,463.24" fill="#111"/>
<ellipse cx="393" cy="482.6" rx="16.6" ry="17.700000000000003" fill="#fff" stroke="#333" stroke-width="1.1"/>
<text x="384.05" y="495.36" font-size="32.2" fill="#111">7</text>
<line x1="301.14" y1="187.27" x2="320.39" y2="200.85" stroke="#2a2a2a" stroke-width="1.05"/>
<polygon points="325.7,204.6 317.08,202.07 320.39,200.85 320.43,197.33" fill="#111"/>
<ellipse cx="287.3" cy="177.5" rx="16.6" ry="17.700000000000003" fill="#fff" stroke="#333" stroke-width="1.1"/>
<text x="278.35" y="190.26" font-size="32.2" fill="#111">8</text>
<line x1="546.58" y1="477.06" x2="497.76" y2="506.72" stroke="#2a2a2a" stroke-width="1.05"/>
<polygon points="492.2,510.1 497.96,503.21 497.76,506.72 500.97,508.16" fill="#111"/>
<ellipse cx="561" cy="468.3" rx="16.6" ry="17.700000000000003" fill="#fff" stroke="#333" stroke-width="1.1"/>
<text x="552.05" y="481.06" font-size="32.2" fill="#111">9</text>
<line x1="381.07" y1="106.19" x2="361.98" y2="128.01" stroke="#2a2a2a" stroke-width="1.05"/>
<polygon points="357.7,132.9 361.12,124.59 361.98,128.01 365.48,128.41" fill="#111"/>
<ellipse cx="392.4" cy="93.25" rx="16.6" ry="17.700000000000003" fill="#fff" stroke="#333" stroke-width="1.1"/>
<path d="M 387.93,102.42 L 385.79,102.42 L 385.79,88.76 C 385.28,89.24 384.59,89.73 383.74,90.24 C 382.88,90.76 382.13,91.12 381.44,91.39 L 381.44,89.32 C 382.64,88.76 383.69,88.07 384.59,87.27 C 385.49,86.46 386.13,85.68 386.52,84.95 L 387.93,84.95 Z" fill="#111"/>
<text x="392.40" y="102.42" font-size="24.4" fill="#111">0</text>
<line x1="533.54" y1="130.02" x2="509.43" y2="115.12" stroke="#2a2a2a" stroke-width="1.05"/>
<polygon points="503.9,111.7 512.65,113.70 509.43,115.12 509.61,118.64" fill="#111"/>
<ellipse cx="547.9" cy="138.9" rx="16.6" ry="17.700000000000003" fill="#fff" stroke="#333" stroke-width="1.1"/>
<path d="M 543.43,148.07 L 541.29,148.07 L 541.29,134.41 C 540.78,134.89 540.09,135.38 539.24,135.89 C 538.38,136.41 537.63,136.77 536.94,137.04 L 536.94,134.97 C 538.14,134.41 539.19,133.72 540.09,132.92 C 540.99,132.11 541.63,131.33 542.02,130.60 L 543.43,130.60 Z" fill="#111"/>
<path d="M 557.00,148.07 L 554.85,148.07 L 554.85,134.41 C 554.34,134.89 553.66,135.38 552.80,135.89 C 551.95,136.41 551.19,136.77 550.51,137.04 L 550.51,134.97 C 551.71,134.41 552.76,133.72 553.66,132.92 C 554.56,132.11 555.20,131.33 555.59,130.60 L 557.00,130.60 Z" fill="#111"/>
<line x1="301.99" y1="532.93" x2="290.13" y2="557.45" stroke="#2a2a2a" stroke-width="1.05"/>
<polygon points="287.3,563.3 288.39,554.39 290.13,557.45 293.61,556.91" fill="#111"/>
<ellipse cx="309.6" cy="517.2" rx="16.6" ry="17.700000000000003" fill="#fff" stroke="#333" stroke-width="1.1"/>
<text x="296.03" y="526.37" font-size="24.4" fill="#111">2</text>
<text x="309.60" y="526.37" font-size="24.4" fill="#111">5</text>
<line x1="298.89" y1="662.86" x2="270.64" y2="682.49" stroke="#2a2a2a" stroke-width="1.05"/>
<polygon points="265.3,686.2 270.63,678.97 270.64,682.49 273.94,683.73" fill="#111"/>
<line x1="326.23" y1="663.60" x2="355.06" y2="685.92" stroke="#2a2a2a" stroke-width="1.05"/>
<polygon points="360.2,689.9 351.70,686.99 355.06,685.92 355.25,682.40" fill="#111"/>
<ellipse cx="312.8" cy="653.2" rx="16.6" ry="17.700000000000003" fill="#fff" stroke="#333" stroke-width="1.1"/>
<text x="299.23" y="662.37" font-size="24.4" fill="#111">2</text>
<text x="312.80" y="662.37" font-size="24.4" fill="#111">6</text>
<line x1="297.47" y1="766.65" x2="259.12" y2="752.90" stroke="#2a2a2a" stroke-width="1.05"/>
<polygon points="253,750.7 261.98,750.84 259.12,752.90 260.02,756.30" fill="#111"/>
<line x1="328.57" y1="765.62" x2="362.04" y2="751.09" stroke="#2a2a2a" stroke-width="1.05"/>
<polygon points="368,748.5 361.36,754.55 362.04,751.09 359.05,749.23" fill="#111"/>
<ellipse cx="313.2" cy="772.3" rx="16.6" ry="17.700000000000003" fill="#fff" stroke="#333" stroke-width="1.1"/>
<text x="299.63" y="781.47" font-size="24.4" fill="#111">2</text>
<text x="313.20" y="781.47" font-size="24.4" fill="#111">7</text>
<line x1="450.02" y1="728.09" x2="425.23" y2="710.73" stroke="#2a2a2a" stroke-width="1.05"/>
<polygon points="419.9,707 428.53,709.50 425.23,710.73 425.20,714.25" fill="#111"/>
<ellipse cx="463.9" cy="737.8" rx="16.6" ry="17.700000000000003" fill="#fff" stroke="#333" stroke-width="1.1"/>
<text x="454.95" y="750.56" font-size="32.2" fill="#111">5</text>
<line x1="328.67" y1="832.56" x2="409.74" y2="810.13" stroke="#2a2a2a" stroke-width="1.05"/>
<polygon points="416,808.4 408.58,813.46 409.74,810.13 407.03,807.87" fill="#111"/>
<ellipse cx="312.6" cy="837" rx="16.6" ry="17.700000000000003" fill="#fff" stroke="#333" stroke-width="1.1"/>
<text x="303.65" y="849.76" font-size="32.2" fill="#111">6</text>
</svg></body></html>
